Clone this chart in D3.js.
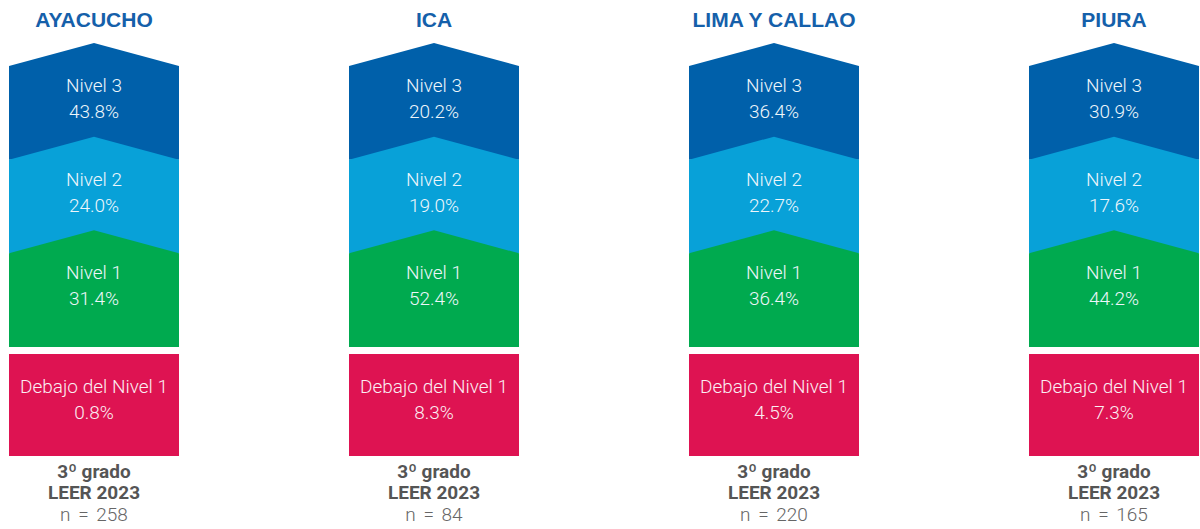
<!DOCTYPE html>
<html>
<head>
<meta charset="utf-8">
<script src="https://cdn.jsdelivr.net/npm/d3@7"></script>
<style>
  body { margin: 0; background: #fff; }
  text { font-family: Roboto, "Noto Sans", sans-serif; }
</style>
</head>
<body>
<div id="main"></div>
<script>
var regions = ["AYACUCHO", "ICA", "LIMA Y CALLAO", "PIURA"];
var levels = ["Nivel 3", "Nivel 2", "Nivel 1"];
var below = "Debajo del Nivel 1";
var nivel3 = [43.8, 20.2, 36.4, 30.9];
var nivel2 = [24.0, 19.0, 22.7, 17.6];
var nivel1 = [31.4, 52.4, 36.4, 44.2];
var debajo = [0.8, 8.3, 4.5, 7.3];
var sampleN = [258, 84, 220, 165];
var footer = ["3º grado", "LEER 2023"];

var levelColors = ["#0060aa", "#08a1d8", "#00aa4f"];
var belowColor = "#de1352";

var outerWidth = 1200, outerHeight = 529;
var colWidth = 170, chevron = 23;

var svg = d3.select("#main").append("svg")
    .attr("width", outerWidth)
    .attr("height", outerHeight);

var xScale = d3.scalePoint().domain(regions).range([94, 1114]);
var yScale = d3.scaleBand().domain(levels).range([66, 347]).paddingInner(0);
var values = [nivel3, nivel2, nivel1];

function label(g, x, y, txt, fill) {
    g.append("text")
        .attr("x", x).attr("y", y)
        .attr("text-anchor", "middle")
        .style("font-size", "19px").style("font-weight", 300)
        .attr("fill", fill)
        .text(txt);
}

regions.forEach(function (region, i) {
    var cx = xScale(region);
    var x0 = cx - colWidth / 2, x1 = cx + colWidth / 2;
    var g = svg.append("g");

    g.append("text")
        .attr("x", cx).attr("y", 27)
        .attr("text-anchor", "middle")
        .style("font-family", "'Liberation Sans', Arial, sans-serif")
        .style("font-weight", "bold")
        .style("font-size", "21px")
        .attr("fill", "#1560aa")
        .text(region);

    // draw top to bottom so each lower band's chevron overlaps the one above
    levels.forEach(function (lvl, j) {
        var top = yScale(lvl);
        var bottom = j == levels.length - 1 ? yScale(lvl) + yScale.bandwidth() : yScale(levels[j + 1]);
        g.append("path")
            .attr("d", "M" + x0 + "," + top + " L" + cx + "," + (top - chevron) + " L" + x1 + "," + top +
                " L" + x1 + "," + bottom + " L" + x0 + "," + bottom + " Z")
            .attr("fill", levelColors[j]);
    });

    levels.forEach(function (lvl, j) {
        var ty = yScale(lvl) + 26;
        label(g, cx, ty, lvl, "#eef6fb");
        label(g, cx, ty + 26, values[j][i].toFixed(1) + "%", "#eef6fb");
    });

    g.append("rect")
        .attr("x", x0).attr("y", 354)
        .attr("width", colWidth).attr("height", 102)
        .attr("fill", belowColor);

    label(g, cx, 393, below, "#fbeef2");
    label(g, cx, 419, debajo[i].toFixed(1) + "%", "#fbeef2");

    footer.forEach(function (f, k) {
        g.append("text")
            .attr("x", cx).attr("y", 478 + k * 21)
            .attr("text-anchor", "middle")
            .style("font-size", "19px").style("font-weight", 700)
            .attr("fill", "#555")
            .text(f);
    });
    g.append("text")
        .attr("x", cx).attr("y", 521)
        .attr("text-anchor", "middle")
        .style("font-size", "19px").style("font-weight", 300)
        .style("word-spacing", "3px")
        .attr("fill", "#666")
        .text("n = " + sampleN[i]);
});
</script>
</body>
</html>
